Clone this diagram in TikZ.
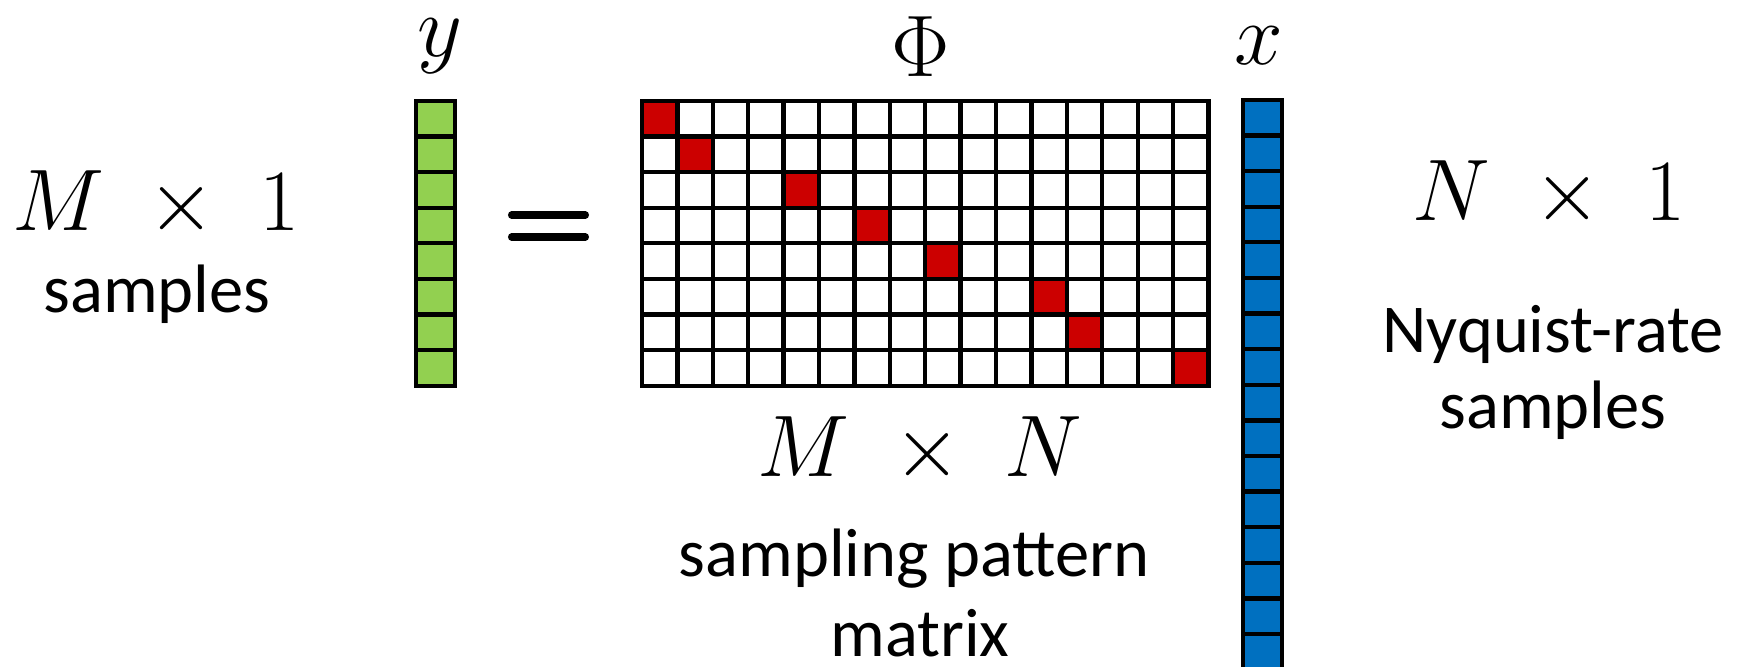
\documentclass[tikz,border=0pt]{standalone}
\usepackage{amsmath}
\usepackage{fontspec}
\setsansfont{Carlito}
\usetikzlibrary{positioning}
\definecolor{ygreen}{HTML}{92D050}
\definecolor{xblue}{HTML}{0070C0}
\definecolor{phired}{HTML}{CC0000}
\tikzset{
  cell style/.style={
    draw=black,              % cell border
    line width=1.2pt,        % border thickness
  },
  math label/.style={font=\fontsize{28}{30}\selectfont, inner sep=0pt, anchor=base},
  word label/.style={font=\sffamily\fontsize{19.5}{22}\selectfont, inner sep=0pt, anchor=base},
}

\begin{document}
\begin{tikzpicture}
    \useasboundingbox (0,0) rectangle (17.48,6.67);
    % cell sizes
    \def\cw{0.354}
    \def\ch{0.356}
    \def\vw{0.39}

    % measurement vector y (M x 1)
    \begin{scope}[shift={(4.16,5.66)}]
      \foreach \r in {0,...,7}
        \draw[cell style, fill=ygreen] (0,{-\r*\ch}) rectangle ++(\vw,-\ch);
    \end{scope}

    % equals sign
    \draw[line width=2pt, line cap=round] (5.115,4.52) -- (5.855,4.52);
    \draw[line width=2pt, line cap=round] (5.115,4.30) -- (5.855,4.30);

    % sampling matrix Phi (M x N), one red entry per row
    \begin{scope}[shift={(6.42,5.66)}]
      \foreach \r/\c in {1/1,2/2,3/5,4/7,5/9,6/12,7/13,8/16}
        \fill[phired] ({(\c-1)*\cw},{-(\r-1)*\ch}) rectangle ++(\cw,-\ch);
      \foreach \c in {0,...,15}
        \foreach \r in {0,...,7}
          \draw[cell style] ({\c*\cw},{-\r*\ch}) rectangle ++(\cw,-\ch);
    \end{scope}

    % signal vector x (N x 1), runs off the bottom
    \begin{scope}[shift={(12.43,5.67)}]
      \foreach \r in {0,...,15}
        \draw[cell style, fill=xblue] (0,{-\r*\ch}) rectangle ++(\vw,-\ch);
    \end{scope}

    % labels
    \node[math label] (ylab) at (4.40,6.10) {$y$};
    \node[math label] (philab) at (9.21,5.90) {$\Phi$};
    \node[math label] (xlab) at (12.59,6.02) {$x$};

    \node[math label] (mdim) at (1.56,4.36) {$M\;\times\;1$};
    \node[word label] (msamp) at (1.57,3.54) {samples};

    \node[math label] (phidim) at (9.20,1.90) {$M\;\times\;N$};
    \node[word label] (phiname) at (9.14,0.90) {sampling pattern};
    \node[word label] (phiname2) at (9.20,0.10) {matrix};

    \node[math label] (ndim) at (15.49,4.46) {$N\;\times\;1$};
    \node[word label] (nyq) at (15.53,3.14) {Nyquist-rate};
    \node[word label] (nsamp) at (15.53,2.38) {samples};
\end{tikzpicture}
\end{document}
